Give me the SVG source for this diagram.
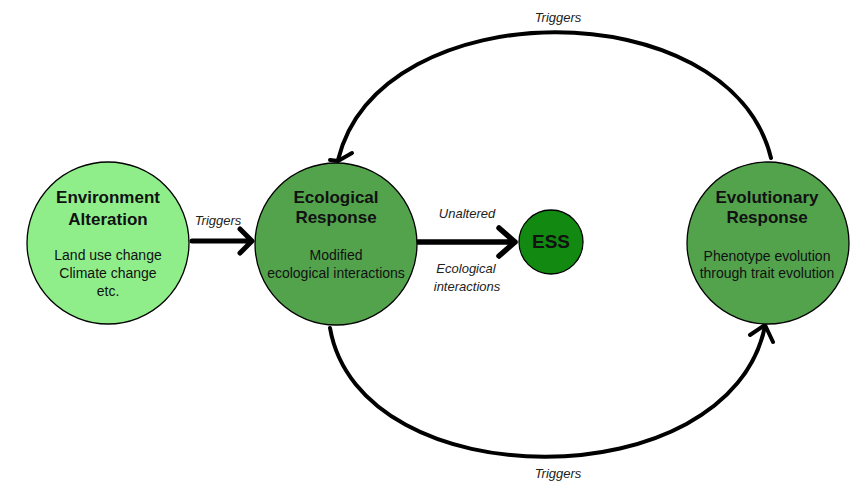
<svg xmlns="http://www.w3.org/2000/svg" width="868" height="492" viewBox="0 0 868 492">
<defs>
<style>
.node{stroke:#000;stroke-width:1.3}
.light{fill:#90ee8a}
.mid{fill:#53a34d}
.dark{fill:#128a12}
.title{font-family:"Liberation Sans",Arial,sans-serif;font-weight:bold;font-size:17px;text-anchor:middle;fill:#111}
.body{font-family:"Liberation Sans",Arial,sans-serif;font-size:14px;text-anchor:middle;fill:#111}
.lbl{font-family:"Liberation Sans",Arial,sans-serif;font-style:italic;font-size:13px;text-anchor:middle;fill:#222}
.con{fill:none;stroke:#000;stroke-linecap:round;stroke-linejoin:round}
</style>
</defs>
<rect width="868" height="492" fill="#fff"/>
<g id="connectors">
<path class="con" stroke-width="4" d="M771 158 C730 -10 380 -10 338 160"/>
<path class="con" stroke-width="4" d="M330 160 L338 161 L352 153" transform="translate(0,0)"/>
<path class="con" stroke-width="4" d="M330 328 C360 500 730 500 765 326"/>
<path class="con" stroke-width="4" d="M750 335 L765 325 L773 342"/>
<path class="con" stroke-width="5" d="M192 241 L251 241 M240 229 L252 241 L240 253"/>
<path class="con" stroke-width="5.5" d="M418 242 L515 242 M499 228 L515 242 L499 256"/>
</g>
<g id="env">
<circle class="node light" cx="108" cy="243" r="81"/>
<text class="title" x="108" y="203">Environment</text>
<text class="title" x="108" y="225">Alteration</text>
<text class="body" x="108" y="260">Land use change</text>
<text class="body" x="108" y="278">Climate change</text>
<text class="body" x="108" y="296">etc.</text>
</g>
<g id="eco">
<circle class="node mid" cx="336" cy="244" r="81"/>
<text class="title" x="336" y="203">Ecological</text>
<text class="title" x="336" y="223">Response</text>
<text class="body" x="336" y="260">Modified</text>
<text class="body" x="336" y="278">ecological interactions</text>
</g>
<g id="ess">
<circle class="node dark" cx="551" cy="242" r="32"/>
<text class="title" x="551" y="248" style="font-size:19px">ESS</text>
</g>
<g id="evo">
<circle class="node mid" cx="768" cy="243" r="81"/>
<text class="title" x="767" y="203">Evolutionary</text>
<text class="title" x="767" y="223">Response</text>
<text class="body" x="767" y="261">Phenotype evolution</text>
<text class="body" x="767" y="278">through trait evolution</text>
</g>
<g id="labels">
<text class="lbl" x="218" y="225">Triggers</text>
<text class="lbl" x="467" y="218">Unaltered</text>
<text class="lbl" x="466" y="273">Ecological</text>
<text class="lbl" x="467" y="291">interactions</text>
<text class="lbl" x="558" y="22">Triggers</text>
<text class="lbl" x="558" y="478">Triggers</text>
</g>
</svg>
